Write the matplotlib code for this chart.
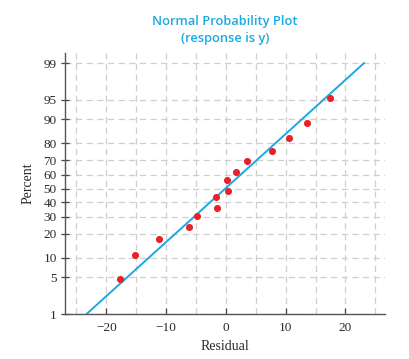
import numpy as np
import matplotlib
matplotlib.use("Agg")
import matplotlib.pyplot as plt
from statistics import NormalDist

# residuals and percents
residual = [-17.7, -15.2, -11.2, -6.2, -4.9, -1.45, -1.67, 0.28, 0.17,
            1.72, 3.55, 7.69, 10.6, 13.6, 17.4]
percent = [4.6, 10.8, 17.5, 24.0, 30.5, 35.9, 43.5, 48.4, 56.3,
           62.2, 69.5, 75.5, 82.4, 88.9, 95.4]

# fitted reference line end points
fit_res = [-23.3, 23.1]
fit_pct = [1, 99]

ytick_vals = [1, 5, 10, 20, 30, 40, 50, 60, 70, 80, 90, 95, 99]
xtick_vals = [-20, -10, 0, 10, 20]

nd = NormalDist()
_ppf = np.vectorize(lambda v: nd.inv_cdf(v / 100.0), otypes=[float])
_cdf = np.vectorize(lambda v: 100.0 * nd.cdf(v), otypes=[float])


def fwd(p):
    p = np.clip(np.asarray(p, dtype=float), 1e-6, 100 - 1e-6)
    return _ppf(p)


def inv(z):
    return _cdf(np.asarray(z, dtype=float))


blue = "#1BA9E1"
red = "#E8212B"
grid_c = "#CFCFCF"

fig = plt.figure(figsize=(4.09, 3.59), dpi=100)
ax = fig.add_axes([0.159, 0.1253, 0.782, 0.7267])
ax.set_yscale("function", functions=(fwd, inv))

ax.plot(fit_res, fit_pct, color=blue, linewidth=1.4, zorder=3)
ax.scatter(residual, percent, s=26, color=red, zorder=4, linewidths=0)

ax.set_xlim(-26.9, 26.6)
ax.set_ylim(1, 99.4)

ax.set_yticks(ytick_vals)
ax.set_yticklabels([str(v) for v in ytick_vals])
ax.yaxis.set_minor_locator(matplotlib.ticker.NullLocator())
ax.set_xticks(xtick_vals)
ax.set_xticklabels(["\u221220", "\u221210", "0", "10", "20"])
ax.set_xticks(np.arange(-25, 30, 5), minor=True)

ax.grid(True, which="both", axis="x", color=grid_c, linestyle=(0, (5, 3.5)), linewidth=0.9)
ax.grid(True, which="major", axis="y", color=grid_c, linestyle=(0, (5, 3.5)), linewidth=0.9)
ax.set_axisbelow(True)

for s in ["top", "right"]:
    ax.spines[s].set_visible(False)
for s in ["left", "bottom"]:
    ax.spines[s].set_color("#555555")
    ax.spines[s].set_linewidth(1.0)

ax.tick_params(axis="y", direction="inout", length=6, width=0.9, color="#444444",
               labelsize=9.5, pad=3)
ax.tick_params(axis="x", which="major", direction="in", length=4, width=0.9,
               color="#444444", labelsize=9.5, pad=6)
ax.tick_params(axis="x", which="minor", length=0)
for lab in ax.get_xticklabels() + ax.get_yticklabels():
    lab.set_fontfamily("Liberation Serif")
    lab.set_color("#2a2a2a")

ax.set_xlabel("Residual", fontfamily="Liberation Serif", fontsize=10, color="#2a2a2a", labelpad=4)
ax.set_ylabel("Percent", fontfamily="Liberation Serif", fontsize=10, color="#2a2a2a", labelpad=6)

fig.text(0.55, 0.94, "Normal Probability Plot", ha="center", va="center",
         fontfamily="Open Sans", fontsize=9.3, color=blue, fontweight="semibold")
fig.text(0.55, 0.893, "(response is y)", ha="center", va="center",
         fontfamily="Open Sans", fontsize=9.3, color=blue, fontweight="semibold")

fig.savefig("out.png", dpi=100)
